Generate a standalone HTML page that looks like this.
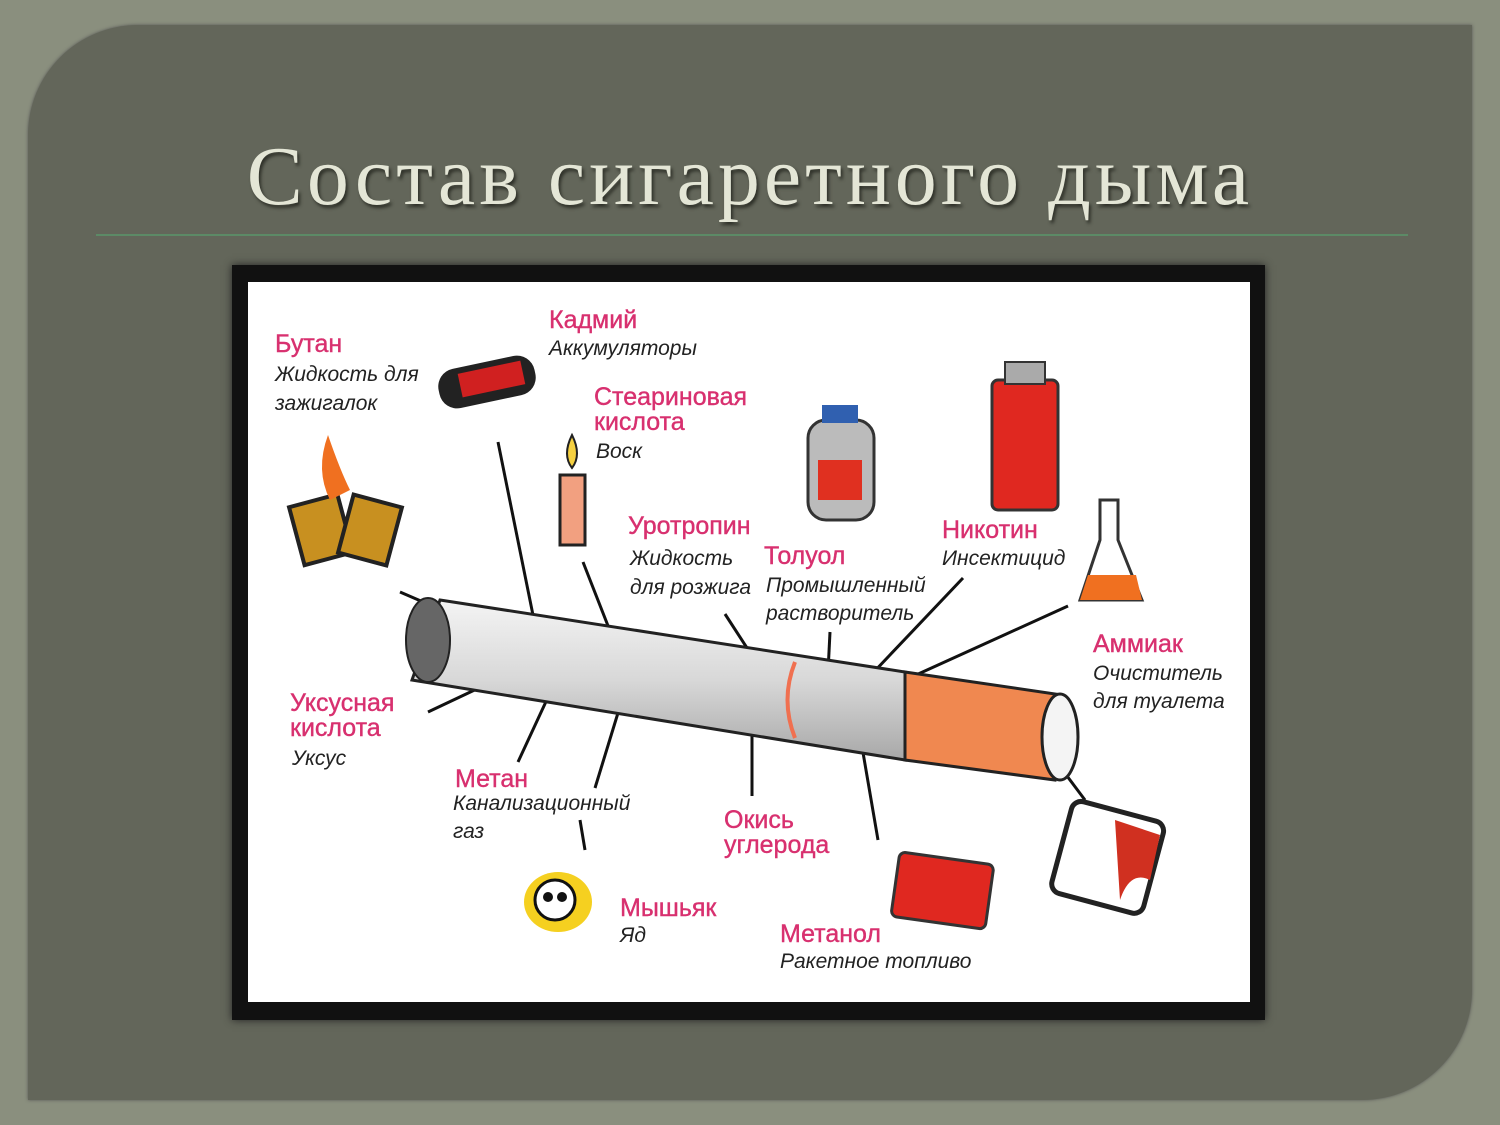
<!DOCTYPE html>
<html><head><meta charset="utf-8"><style>
body{margin:0;width:1500px;height:1125px;overflow:hidden;background:#8a8f7e;position:relative;font-family:"Liberation Sans",sans-serif}
.panel{position:absolute;left:28px;top:25px;width:1444px;height:1075px;background:#63665a;border-radius:110px 0 110px 0;box-shadow:0 0 3px #555}
h1{position:absolute;left:0;width:1500px;top:128px;margin:0;text-align:center;font-family:"Liberation Serif","DejaVu Serif",serif;font-weight:normal;font-size:84px;letter-spacing:4px;color:#e4e6d6;text-shadow:2px 3px 3px #2e3028}
.line{position:absolute;left:96px;top:234px;width:1312px;height:2px;background:#5c8a66}
.frame{position:absolute;left:232px;top:265px;width:1033px;height:755px;background:#111;box-shadow:0 0 8px #222}
.white{position:absolute;left:248px;top:282px;width:1002px;height:720px;background:#fff}
svg{position:absolute;left:0;top:0}
.l{font-family:"Liberation Sans",sans-serif;font-size:25px;fill:#d8306f;stroke:#d8306f;stroke-width:0.4}
.s{font-family:"Liberation Sans",sans-serif;font-size:21px;font-style:italic;fill:#222}
</style></head><body>
<div class="panel"></div>
<h1>Состав сигаретного дыма</h1>
<div class="line"></div>
<div class="frame"></div>
<div class="white"></div>
<svg width="1500" height="1125">
<g stroke="#111" stroke-width="3">
<line x1="400" y1="592" x2="488" y2="630"/>
<line x1="498" y1="442" x2="535" y2="625"/>
<line x1="583" y1="562" x2="612" y2="636"/>
<line x1="725" y1="614" x2="773" y2="688"/>
<line x1="830" y1="632" x2="828" y2="672"/>
<line x1="963" y1="578" x2="870" y2="676"/>
<line x1="1068" y1="606" x2="905" y2="680"/>
<line x1="428" y1="712" x2="500" y2="678"/>
<line x1="518" y1="762" x2="556" y2="680"/>
<line x1="595" y1="788" x2="625" y2="690"/>
<line x1="580" y1="820" x2="585" y2="850"/>
<line x1="752" y1="796" x2="752" y2="730"/>
<line x1="878" y1="840" x2="860" y2="735"/>
<line x1="1055" y1="760" x2="1085" y2="800"/>
</g>
<defs><linearGradient id="cg" x1="0" y1="0" x2="0" y2="1"><stop offset="0" stop-color="#f4f4f4"/><stop offset=".5" stop-color="#d8d8d8"/><stop offset="1" stop-color="#a8a8a8"/></linearGradient></defs>
<polygon points="440,600 905,672 905,760 412,680" fill="url(#cg)" stroke="#222" stroke-width="3"/>
<polygon points="905,672 1062,695 1055,780 905,760" fill="#f08850" stroke="#222" stroke-width="3"/>
<ellipse cx="1060" cy="737" rx="18" ry="43" fill="#f4f4f4" stroke="#222" stroke-width="3"/>
<ellipse cx="428" cy="640" rx="22" ry="42" fill="#666" stroke="#222" stroke-width="2"/>
<path d="M795 662 Q780 700 795 738" stroke="#f07050" stroke-width="4" fill="none"/>
<rect x="438" y="362" width="98" height="40" rx="18" fill="#222" transform="rotate(-12 487 382)"/>
<rect x="460" y="368" width="64" height="24" fill="#d02020" transform="rotate(-12 487 382)"/>
<rect x="560" y="475" width="25" height="70" fill="#f2a080" stroke="#222" stroke-width="3"/>
<path d="M572 435 Q562 455 572 468 Q582 455 572 435Z" fill="#f5d040" stroke="#222" stroke-width="2"/>
<rect x="808" y="420" width="66" height="100" rx="18" fill="#bbb" stroke="#333" stroke-width="3"/>
<rect x="822" y="405" width="36" height="18" fill="#3060b0"/>
<rect x="818" y="460" width="44" height="40" fill="#e03020"/>
<rect x="992" y="380" width="66" height="130" rx="6" fill="#e02820" stroke="#333" stroke-width="3"/>
<rect x="1005" y="362" width="40" height="22" fill="#aaa" stroke="#333" stroke-width="2"/>
<path d="M1100 500 L1118 500 L1118 540 L1142 600 L1080 600 L1100 540Z" fill="#fff" stroke="#333" stroke-width="3"/>
<path d="M1088 575 L1136 575 L1142 600 L1080 600Z" fill="#f07020"/>
<rect x="296" y="500" width="50" height="60" fill="#c89020" stroke="#222" stroke-width="4" transform="rotate(-15 320 530)"/>
<rect x="345" y="500" width="50" height="60" fill="#c89020" stroke="#222" stroke-width="4" transform="rotate(15 370 530)"/>
<path d="M330 500 Q315 470 328 435 Q340 470 350 490" fill="#f07020"/>
<rect x="1060" y="810" width="95" height="95" rx="10" fill="#fff" stroke="#222" stroke-width="5" transform="rotate(15 1108 858)"/>
<path d="M1115 820 L1160 835 L1150 880 Q1130 870 1120 900Z" fill="#d03020"/>
<rect x="895" y="858" width="95" height="65" rx="6" fill="#e02820" stroke="#333" stroke-width="3" transform="rotate(8 942 890)"/>
<ellipse cx="558" cy="902" rx="34" ry="30" fill="#f5d020"/>
<circle cx="555" cy="900" r="20" fill="#fff" stroke="#111" stroke-width="3"/>
<circle cx="548" cy="897" r="5" fill="#111"/><circle cx="562" cy="897" r="5" fill="#111"/>
<text class="l" x="275" y="352">Бутан</text>
<text class="s" x="275" y="381">Жидкость для</text>
<text class="s" x="275" y="410">зажигалок</text>
<text class="l" x="549" y="328">Кадмий</text>
<text class="s" x="549" y="355">Аккумуляторы</text>
<text class="l" x="594" y="405">Стеариновая</text>
<text class="l" x="594" y="430">кислота</text>
<text class="s" x="596" y="458">Воск</text>
<text class="l" x="628" y="534">Уротропин</text>
<text class="s" x="630" y="565">Жидкость</text>
<text class="s" x="630" y="594">для розжига</text>
<text class="l" x="764" y="564">Толуол</text>
<text class="s" x="766" y="592">Промышленный</text>
<text class="s" x="766" y="620">растворитель</text>
<text class="l" x="942" y="538">Никотин</text>
<text class="s" x="942" y="565">Инсектицид</text>
<text class="l" x="1093" y="652">Аммиак</text>
<text class="s" x="1093" y="680">Очиститель</text>
<text class="s" x="1093" y="708">для туалета</text>
<text class="l" x="290" y="711">Уксусная</text>
<text class="l" x="290" y="736">кислота</text>
<text class="s" x="292" y="765">Уксус</text>
<text class="l" x="455" y="787">Метан</text>
<text class="s" x="453" y="810">Канализационный</text>
<text class="s" x="453" y="838">газ</text>
<text class="l" x="724" y="828">Окись</text>
<text class="l" x="724" y="853">углерода</text>
<text class="l" x="620" y="916">Мышьяк</text>
<text class="s" x="620" y="942">Яд</text>
<text class="l" x="780" y="942">Метанол</text>
<text class="s" x="780" y="968">Ракетное топливо</text>
</svg>
</body></html>
